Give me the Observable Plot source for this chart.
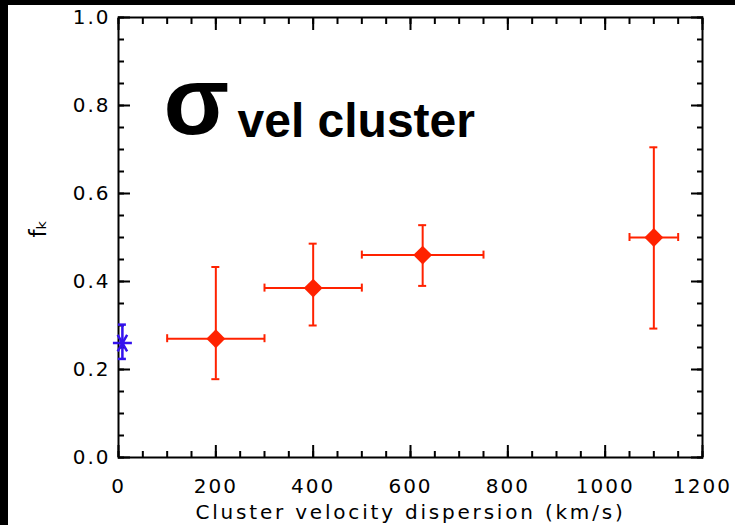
<!DOCTYPE html>
<html>
<head>
<meta charset="utf-8">
<script src="https://cdn.jsdelivr.net/npm/d3@7"></script>
<script src="https://cdn.jsdelivr.net/npm/@observablehq/plot@0.6"></script>
<style>
  html, body { margin: 0; padding: 0; background: white; }
  #wrap { width: 727px; height: 520px; border-top: 5px solid black; border-left: 8px solid black; background: white; }
  #wrap svg text.ticklab, #wrap svg g.ticklab text { letter-spacing: 2.8px; }
  #wrap g[aria-label="x-axis tick label"] text, #wrap g[aria-label="y-axis tick label"] text { letter-spacing: 2px; }
</style>
</head>
<body>
<div id="wrap"></div>
<script>
// Cluster bins (red diamonds)
const sigma   = [200, 400, 625, 1100];
const sigmaLo = [100, 300, 500, 1050];
const sigmaHi = [300, 500, 750, 1150];
const fK      = [0.27, 0.385, 0.46, 0.50];
const fKLo    = [0.178, 0.30, 0.39, 0.293];
const fKHi    = [0.433, 0.486, 0.528, 0.705];
// Field point (blue asterisk)
const fieldX  = [8];
const fieldY  = [0.26];
const fieldLo = [0.224];
const fieldHi = [0.302];
// Ticks
const xMajor = [0, 200, 400, 600, 800, 1000, 1200];
const xMinor = d3.range(0, 1201, 50);
const yMajor = [0, 0.2, 0.4, 0.6, 0.8, 1.0];
const yMinor = d3.range(0, 1.0001, 0.05);
const xTitle = "Cluster velocity dispersion (km/s)";
const yTitle = "fₖ";

const bins = sigma.map((s, i) => ({s, lo: sigmaLo[i], hi: sigmaHi[i], f: fK[i], flo: fKLo[i], fhi: fKHi[i]}));
const field = fieldX.map((s, i) => ({s, f: fieldY[i], flo: fieldLo[i], fhi: fieldHi[i]}));

const red = "#ff2200";
const blue = "#3311ee";
const font = "DejaVu Sans";

const chart = Plot.plot({
  width: 727, height: 520,
  marginLeft: 110, marginRight: 33, marginTop: 12, marginBottom: 68,
  x: {domain: [0, 1200]},
  y: {domain: [0, 1]},
  style: {fontFamily: font, fontSize: "19px", color: "black", background: "white", overflow: "visible"},
  marks: [
    // inward ticks on four sides
    Plot.axisX(xMinor, {anchor: "bottom", tickSize: -6, strokeWidth: 2, text: null, label: null}),
    Plot.axisX(xMajor, {anchor: "bottom", tickSize: -12, strokeWidth: 2, text: null, label: null}),
    Plot.axisX(xMinor, {anchor: "top", tickSize: -6, strokeWidth: 2, text: null, label: null}),
    Plot.axisX(xMajor, {anchor: "top", tickSize: -12, strokeWidth: 2, text: null, label: null}),
    Plot.axisY(yMinor, {anchor: "left", tickSize: -6, strokeWidth: 2, text: null, label: null}),
    Plot.axisY(yMajor, {anchor: "left", tickSize: -12, strokeWidth: 2, text: null, label: null}),
    Plot.axisY(yMinor, {anchor: "right", tickSize: -6, strokeWidth: 2, text: null, label: null}),
    Plot.axisY(yMajor, {anchor: "right", tickSize: -12, strokeWidth: 2, text: null, label: null}),
    // tick labels
    Plot.axisX(xMajor, {anchor: "bottom", tickSize: 0, tickPadding: 21, tickFormat: d => String(d), label: null, fontSize: 20}),
    Plot.axisY(yMajor, {anchor: "left", tickSize: 0, tickPadding: 8, tickFormat: d => d.toFixed(1), label: null, fontSize: 20}),
    Plot.frame({stroke: "black", strokeWidth: 2}),
    // axis titles
    Plot.text([xTitle], {frameAnchor: "bottom", dy: 55, lineAnchor: "middle", text: d => d, fontSize: 20, fill: "black", className: "ticklab"}),
    Plot.text([yTitle], {frameAnchor: "left", dx: -80, rotate: -90, lineAnchor: "middle", text: d => d, fontSize: 23, fill: "black"}),
    // annotation
    Plot.text(["σ"], {frameAnchor: "top-left", dx: 45, dy: 116, textAnchor: "start", lineAnchor: "bottom", text: d => d, fontFamily: "Liberation Sans", fontWeight: "bold", fontSize: 96, fill: "black"}),
    Plot.text(["vel cluster"], {frameAnchor: "top-left", dx: 119, dy: 119, textAnchor: "start", lineAnchor: "bottom", text: d => d, fontFamily: "Liberation Sans", fontWeight: "bold", fontSize: 48, fill: "black"}),
    // red error bars
    Plot.ruleY(bins, {y: "f", x1: "lo", x2: "hi", stroke: red, strokeWidth: 2}),
    Plot.ruleX(bins, {x: "s", y1: "flo", y2: "fhi", stroke: red, strokeWidth: 2}),
    Plot.ruleX(bins, {x: "lo", y1: "f", y2: "f", insetTop: -4, insetBottom: -4, stroke: red, strokeWidth: 2}),
    Plot.ruleX(bins, {x: "hi", y1: "f", y2: "f", insetTop: -4, insetBottom: -4, stroke: red, strokeWidth: 2}),
    Plot.ruleY(bins, {y: "flo", x1: "s", x2: "s", insetLeft: -4, insetRight: -4, stroke: red, strokeWidth: 2}),
    Plot.ruleY(bins, {y: "fhi", x1: "s", x2: "s", insetLeft: -4, insetRight: -4, stroke: red, strokeWidth: 2}),
    Plot.dot(bins, {x: "s", y: "f", symbol: "diamond2", r: 8.5, fill: red, stroke: "none"}),
    // blue field point
    Plot.ruleX(field, {x: "s", y1: "flo", y2: "fhi", stroke: blue, strokeWidth: 2.5}),
    Plot.ruleY(field, {y: "flo", x1: "s", x2: "s", insetLeft: -4, insetRight: -4, stroke: blue, strokeWidth: 2.5}),
    Plot.ruleY(field, {y: "fhi", x1: "s", x2: "s", insetLeft: -4, insetRight: -4, stroke: blue, strokeWidth: 2.5}),
    Plot.dot(field, {x: "s", y: "f", symbol: "asterisk", r: 9, rotate: 90, stroke: blue, strokeWidth: 2.5})
  ]
});
document.getElementById("wrap").appendChild(chart);
</script>
</body>
</html>
